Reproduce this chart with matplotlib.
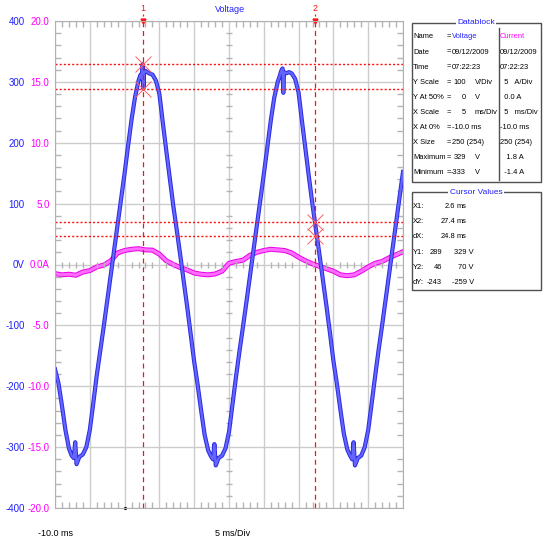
import matplotlib
matplotlib.use("Agg")
import matplotlib.pyplot as plt
import matplotlib.patheffects as pe
from matplotlib.patches import Rectangle
from matplotlib.lines import Line2D
from matplotlib.ticker import MultipleLocator

# -- Voltage trace (ms, V) --
volt_t = [-10, -9.5, -9, -8.5, -8, -7.6, -7.3, -7.1, -6.9, -6.5, -6, -5.5, -5, -4.5, -4,
          -3.5, -3, -2.5, -2, -1.5, -1, -0.5, 0, 0.5, 1, 1.5, 2, 2.3, 2.5, 2.6, 2.7, 2.8,
          3, 3.5, 4, 4.5, 5, 5.5, 6, 6.5, 7, 7.5, 8, 8.5, 9, 9.5,
          10, 10.5, 11, 11.5, 12, 12.4, 12.7, 12.9, 13.1, 13.5, 14, 14.5, 15, 15.5, 16,
          16.5, 17, 17.5, 18, 18.5, 19, 19.5, 20, 20.5, 21, 21.5, 22, 22.3, 22.5, 22.7,
          22.8, 22.9, 23.2, 23.6, 24, 24.5, 25, 25.5, 26, 26.5, 27, 27.5, 28, 28.5, 29, 29.5,
          30, 30.5, 31, 31.5, 32, 32.4, 32.7, 32.9, 33.1, 33.5, 34, 34.5, 35, 35.5, 36,
          36.5, 37, 37.5, 38, 38.5, 39, 39.5, 40]
volt_v = [-172, -195, -232, -272, -302, -314, -318, -292, -328, -316, -312, -300, -272, -228, -182,
          -142, -102, -60, -18, 24, 66, 108, 150, 195, 238, 275, 302, 312, 305, 329, 289, 316,
          318, 314, 312, 302, 280, 232, 186, 141, 96, 56, 15, -28, -70, -115,
          -160, -198, -240, -280, -305, -315, -320, -295, -330, -318, -314, -302, -275, -230, -185,
          -143, -103, -62, -20, 22, 64, 106, 148, 192, 236, 274, 300, 310, 318, 322,
          282, 316, 314, 316, 314, 305, 282, 234, 188, 142, 98, 57, 16, -26, -68, -112,
          -158, -196, -238, -278, -304, -314, -320, -292, -330, -318, -314, -300, -272, -228, -183,
          -140, -100, -58, -16, 26, 68, 110, 152]

# -- Current trace (ms, A) --
cur_t = list(range(-10, 41))
cur_a = [-0.75, -0.85, -0.80, -0.88, -0.62, -0.50, -0.20, -0.05, 0.30, 0.95, 1.15,
         1.25, 1.30, 1.20, 1.18, 0.85, 0.30, 0.00, -0.25, -0.45, -0.70,
         -0.80, -0.85, -0.78, -0.55, 0.10, 0.25, 0.35, 0.75, 1.00, 1.15,
         1.25, 1.20, 1.15, 0.95, 0.60, 0.30, 0.05, -0.15, -0.35, -0.55,
         -0.85, -0.92, -0.85, -0.55, -0.20, 0.10, 0.25, 0.55, 0.80, 1.05]

volt_ticks = [400, 300, 200, 100, 0, -100, -200, -300, -400]
volt_labels = ["400", "300", "200", "100", "0V", "-100", "-200", "-300", "-400"]
cur_ticks = [20, 15, 10, 5, 0, -5, -10, -15, -20]
cur_labels = ["20.0", "15.0", "10.0", "5.0", "0.0A", "-5.0", "-10.0", "-15.0", "-20.0"]

# -- Cursors --
cursor_x = [2.6, 27.4]
cursor_v1 = [329, 289]
cursor_v2 = [70, 46]
trigger_t = 0

# -- Datablock / cursor box text --
db_labels = ["Name", "Date", "Time", "Y Scale", "Y At 50%", "X Scale", "X At 0%",
             "X Size", "Maximum", "Minimum"]
db_volt = ["Voltage", "09/12/2009", "07:22:23", "100", "0", "5", "-10.0 ms",
           "250 (254)", "329", "-333"]
db_volt_unit = ["", "", "", "V/Div", "V", "ms/Div", "", "", "V", "V"]
db_curr = ["Current", "09/12/2009", "07:22:23", "  5   A/Div", "  0.0 A", "  5   ms/Div",
           "-10.0 ms", "250 (254)", "   1.8 A", "  -1.4 A"]
cv_labels = ["X1:", "X2:", "dX:", "Y1:", "Y2:", "dY:"]
cv_first = ["2.6", "27.4", "24.8", "289", "46", "-243"]
cv_second = ["ms", "ms", "ms", "329 V", "70 V", "-259 V"]

BLUE = "#2020ff"
MAGENTA = "#ff00ff"
RED = "#ff1010"
GRID = "#cccccc"

plt.rcParams["font.family"] = ["Liberation Sans", "DejaVu Sans"]
FS = 5.4      # panel text
TFS = 7       # axis text

W, H = 544, 542
def fx(x):
    return x / W
def fy(y):
    return 1 - y / H

fig = plt.figure(figsize=(5.44, 5.42), dpi=100)
rect = [fx(55), fy(508), (403 - 55) / W, (508 - 21) / H]

# -- current axes underneath (also holds the grid) --
ax_c = fig.add_axes(rect)
ax_c.set_xlim(-10, 40)
ax_c.set_ylim(-20, 20)
ax_c.xaxis.set_major_locator(MultipleLocator(5))
ax_c.set_yticks(cur_ticks, cur_labels)
ax_c.tick_params(axis="x", length=0, labelbottom=False)
ax_c.tick_params(axis="y", length=0, pad=4, labelcolor=MAGENTA, labelsize=TFS)
ax_c.grid(color=GRID, lw=1)
for s in ax_c.spines.values():
    s.set_visible(False)
ax_c.plot(cur_t, cur_a, color="#ff6cff", lw=2.2,
          path_effects=[pe.Stroke(linewidth=3.6, foreground="#e800e8"), pe.Normal()])

# -- voltage axes on top --
ax = fig.add_axes(rect)
ax.patch.set_visible(False)
ax.set_xlim(-10, 40)
ax.set_ylim(-400, 400)
ax.xaxis.set_major_locator(MultipleLocator(5))
ax.xaxis.set_minor_locator(MultipleLocator(1))
ax.set_yticks(volt_ticks, volt_labels)
ax.yaxis.set_minor_locator(MultipleLocator(20))
ax.tick_params(which="both", direction="in", top=True, right=True, color="#b5b5b5")
ax.tick_params(which="major", length=0)
ax.tick_params(which="minor", length=4, width=1)
ax.tick_params(axis="x", labelbottom=False)
ax.tick_params(axis="y", pad=22, labelcolor=BLUE, labelsize=TFS)
for s in ax.spines.values():
    s.set_color("#b0b0b0")

# graticule ticks on the centre cross
xt = ax.xaxis.get_minorticklocs()
yt = ax.yaxis.get_minorticklocs()
ax.plot(xt, [0] * len(xt), ls="none", marker="|", ms=4, color="#b5b5b5")
ax.plot([15] * len(yt), yt, ls="none", marker="_", ms=4, color="#b5b5b5")

ax.plot(volt_t, volt_v, color="#6464ff", lw=1.6,
        path_effects=[pe.Stroke(linewidth=3, foreground="#2a2ae0"), pe.Normal()])

# -- cursors --
for cx in cursor_x:
    ax.axvline(cx, color=RED, lw=0.9, ls=(0, (4, 3)))
for v in cursor_v1 + cursor_v2:
    ax.axhline(v, color=RED, lw=1, ls=(0, (1.5, 1.5)))
ax.plot([cursor_x[0]] * 2, cursor_v1, ls="none", marker="x", ms=12, mew=0.7, color="#ff6060")
ax.plot([cursor_x[1]] * 2, cursor_v2, ls="none", marker="x", ms=12, mew=0.7, color="#ff6060")
for i, cx in enumerate(cursor_x):
    ax.plot(cx, 1.0, transform=ax.get_xaxis_transform(), marker="v", ms=3.5,
            color=RED, clip_on=False)
    ax.plot([cx, cx], [1.0, 1.015], transform=ax.get_xaxis_transform(), color=RED,
            lw=0.9, ls=(0, (2, 2)), clip_on=False)
    ax.text(cx, 1.017, str(i + 1), transform=ax.get_xaxis_transform(), color=RED,
            ha="center", va="bottom", fontsize=6.5)
ax.plot(trigger_t, -400, marker=".", ms=2.5, color="black", clip_on=False)

fig.text(fx(230), fy(10), "Voltage", color=BLUE, ha="center", va="center", fontsize=6.5)
fig.text(fx(55), fy(533), "-10.0 ms", ha="center", va="center", fontsize=6.5)
fig.text(fx(233), fy(533), "5 ms/Div", ha="center", va="center", fontsize=6.5)

# -- Datablock panel --
fig.add_artist(Rectangle((fx(412), fy(182)), (541 - 412) / W, (182 - 23) / H,
                         transform=fig.transFigure, fill=False, ec="#505050", lw=1))
fig.add_artist(Line2D([fx(498.5)] * 2, [fy(28), fy(180)], color="#505050", lw=1))
fig.text(fx(476), fy(23), "Datablock", ha="center", va="center", color=BLUE, fontsize=6,
         bbox=dict(fc="white", ec="none", pad=1))
for i, lab in enumerate(db_labels):
    y = fy(37 + i * 15.1)
    fig.text(fx(413), y, lab, ha="left", va="center", fontsize=FS)
    fig.text(fx(446.5), y, "=", ha="left", va="center", fontsize=FS)
    if db_volt_unit[i]:
        fig.text(fx(466), y, db_volt[i], ha="right", va="center", fontsize=FS)
        fig.text(fx(475), y, db_volt_unit[i], ha="left", va="center", fontsize=FS)
    else:
        fig.text(fx(452), y, db_volt[i], ha="left", va="center", fontsize=FS,
                 color=BLUE if i == 0 else "black")
    fig.text(fx(500), y, db_curr[i], ha="left", va="center", fontsize=FS,
             color=MAGENTA if i == 0 else "black")

# -- Cursor values panel --
fig.add_artist(Rectangle((fx(412), fy(290)), (541 - 412) / W, (290 - 192) / H,
                         transform=fig.transFigure, fill=False, ec="#505050", lw=1))
fig.text(fx(476), fy(192), "Cursor Values", ha="center", va="center", color=BLUE,
         fontsize=6, bbox=dict(fc="white", ec="none", pad=1))
for i, lab in enumerate(cv_labels):
    y = fy(206 + i * 15.4)
    fig.text(fx(413), y, lab, ha="left", va="center", fontsize=FS)
    if i < 3:
        fig.text(fx(455), y, cv_first[i], ha="right", va="center", fontsize=FS)
        fig.text(fx(457), y, cv_second[i], ha="left", va="center", fontsize=FS)
    else:
        fig.text(fx(442), y, cv_first[i], ha="right", va="center", fontsize=FS)
        fig.text(fx(474), y, cv_second[i], ha="right", va="center", fontsize=FS)

fig.savefig("out.png", dpi=100, facecolor="white")
